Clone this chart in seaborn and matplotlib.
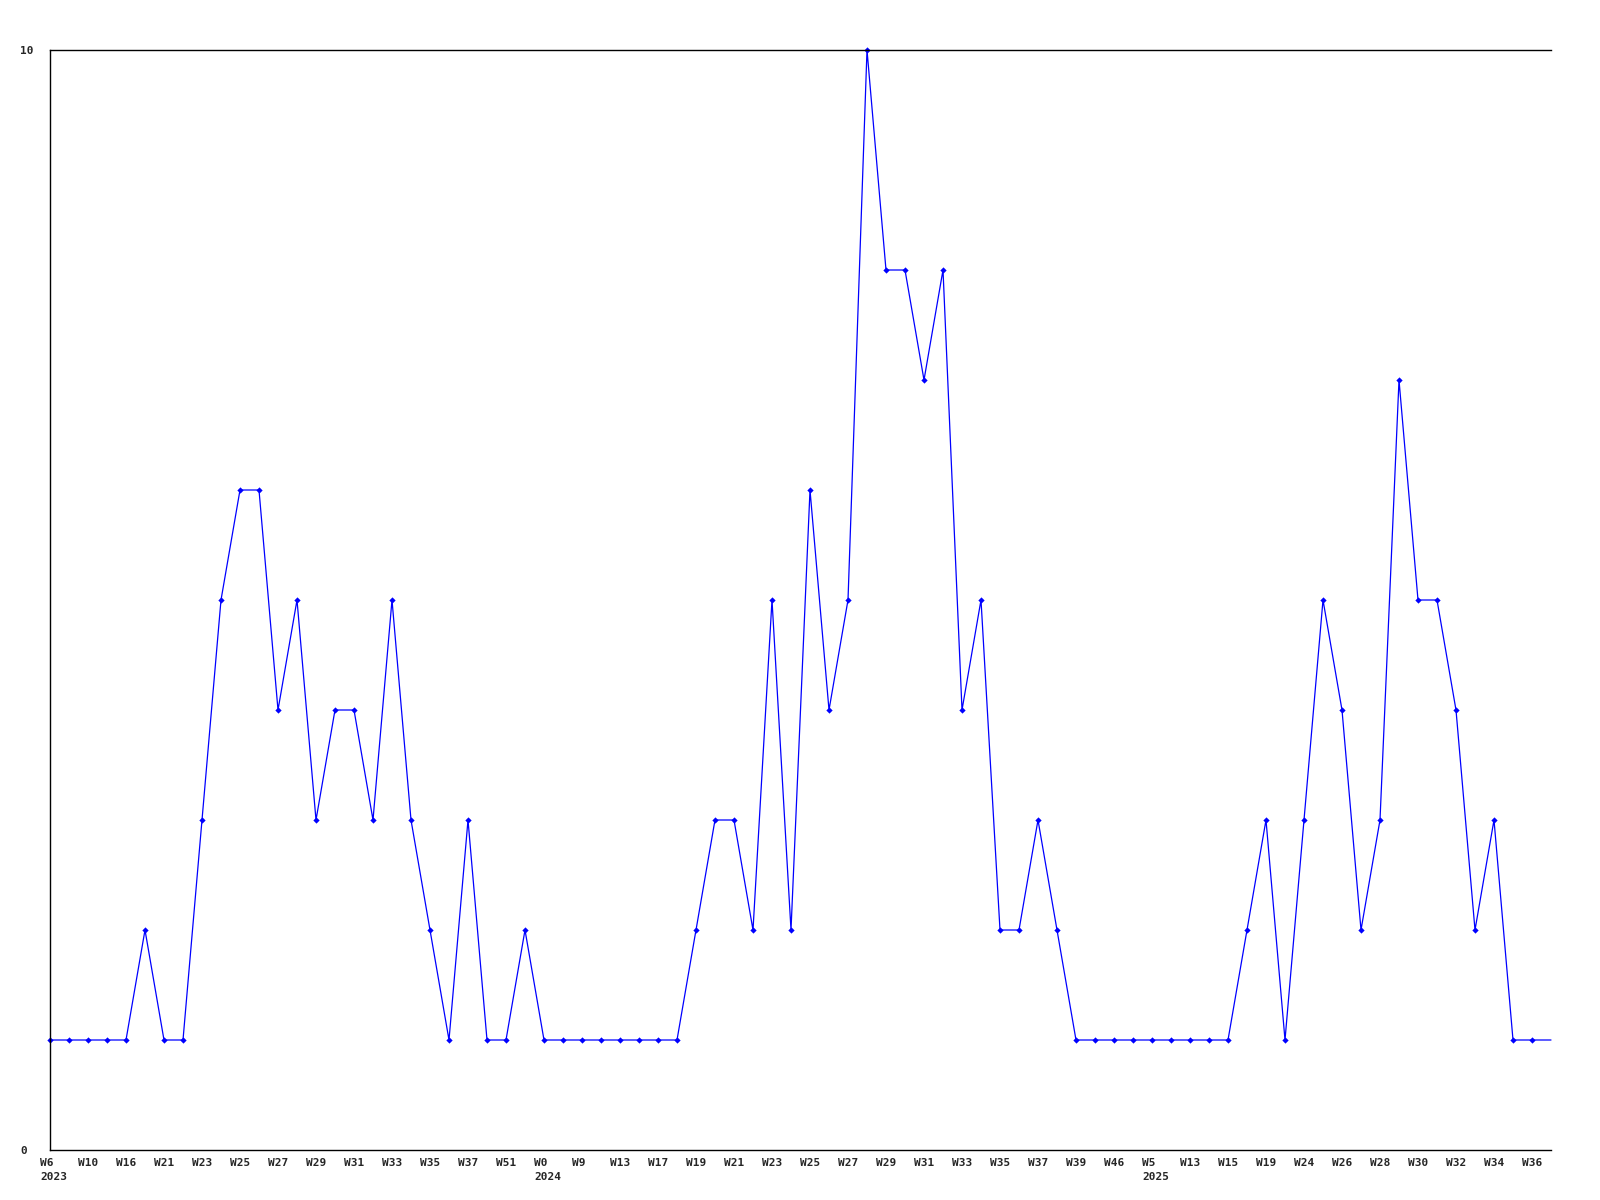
import pandas as pd
import matplotlib
matplotlib.use('Agg')
import matplotlib.pyplot as plt
import matplotlib.transforms as mtransforms
import seaborn as sns

# weekly counts, one value per point
counts = [1, 1, 1, 1, 1, 2, 1, 1, 3, 5,
          6, 6, 4, 5, 3, 4, 4, 3, 5, 3,
          2, 1, 3, 1, 1, 2, 1, 1, 1, 1,
          1, 1, 1, 1, 2, 3, 3, 2, 5, 2,
          6, 4, 5, 10, 8, 8, 7, 8, 4, 5,
          2, 2, 3, 2, 1, 1, 1, 1, 1, 1,
          1, 1, 1, 2, 3, 1, 3, 5, 4, 2,
          3, 7, 5, 5, 4, 2, 3, 1, 1, 1]

# labels shown on every second point
week_labels = ['W6', 'W10', 'W16', 'W21', 'W23', 'W25', 'W27', 'W29', 'W31', 'W33',
               'W35', 'W37', 'W51', 'W0', 'W9', 'W13', 'W17', 'W19', 'W21', 'W23',
               'W25', 'W27', 'W29', 'W31', 'W33', 'W35', 'W37', 'W39', 'W46', 'W5',
               'W13', 'W15', 'W19', 'W24', 'W26', 'W28', 'W30', 'W32', 'W34', 'W36']
year_labels = {0: '2023', 13: '2024', 29: '2025'}

df = pd.DataFrame({'idx': range(len(counts)), 'count': counts})

sns.set_style('white')
plt.rcParams['font.family'] = ['DejaVu Sans Mono']

fig = plt.figure(figsize=(16, 12), dpi=100)
ax = fig.add_axes([50 / 1600, 50 / 1200, 1501 / 1600, 1100 / 1200])

# last point drawn without a marker, as in the original
sns.lineplot(data=df, x='idx', y='count', ax=ax, color='#0000ff', linewidth=0.9,
             marker='D', markersize=3.2, markeredgewidth=0,
             markevery=list(range(len(counts) - 1)), clip_on=False)

ax.set_xlim(0, len(counts) - 1)
ax.set_ylim(0, 10)

labels = []
for i, w in enumerate(week_labels):
    if i in year_labels:
        labels.append(w + '\n' + year_labels[i])
    else:
        labels.append(w)
ax.set_xticks(range(0, len(counts), 2))
ax.set_xticklabels(labels, ha='left', va='top', fontsize=8, fontweight='bold',
                   linespacing=1.5, multialignment='left')
ax.set_yticks([0, 10])
ax.set_yticklabels(['0', '10'], ha='left', fontsize=8, fontweight='bold')
ax.tick_params(axis='x', length=0, pad=6)
ax.tick_params(axis='y', length=0, pad=0)

shift_x = mtransforms.ScaledTranslation(-10 / 100, 0, fig.dpi_scale_trans)
for lbl in ax.get_xticklabels():
    lbl.set_transform(lbl.get_transform() + shift_x)
shift_y = mtransforms.ScaledTranslation(-30 / 100, 0, fig.dpi_scale_trans)
for lbl in ax.get_yticklabels():
    lbl.set_transform(lbl.get_transform() + shift_y)

ax.set_xlabel('')
ax.set_ylabel('')
for side in ['left', 'top', 'bottom']:
    ax.spines[side].set_color('black')
    ax.spines[side].set_linewidth(1.0)
ax.spines['right'].set_visible(False)
ax.grid(False)

fig.savefig('out.png', dpi=100)
